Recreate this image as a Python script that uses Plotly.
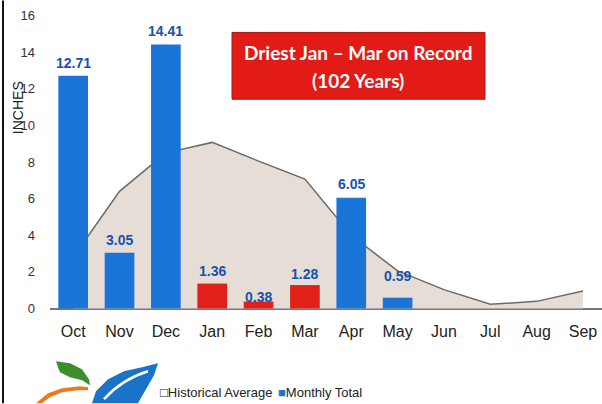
import plotly.graph_objects as go

months = ["Oct", "Nov", "Dec", "Jan", "Feb", "Mar", "Apr", "May", "Jun", "Jul", "Aug", "Sep"]
historical_avg = [2.8, 6.4, 8.5, 9.07, 8.05, 7.07, 4.0, 2.05, 1.03, 0.23, 0.39, 0.96]
bar_months = ["Oct", "Nov", "Dec", "Jan", "Feb", "Mar", "Apr", "May"]
monthly_total = [12.71, 3.05, 14.41, 1.36, 0.38, 1.28, 6.05, 0.59]
bar_labels = ["12.71", "3.05", "14.41", "1.36", "0.38", "1.28", "6.05", "0.59"]
y_ticks = [0, 2, 4, 6, 8, 10, 12, 14, 16]

BLUE = "#1b74d8"
RED = "#e2201a"
bar_colors = [BLUE, BLUE, BLUE, RED, RED, RED, BLUE, BLUE]
label_shift = [3, 3, 4, 3, -5, 1, 4, 12]  # styling: label offsets in px

sans = "Liberation Sans, Arial, sans-serif"

fig = go.Figure()
# historical average area on base axes (drawn below)
fig.add_trace(go.Scatter(
    x=months, y=historical_avg, mode="lines", fill="tozeroy",
    fillcolor="#e6ddd7", line=dict(color="#6a6a6a", width=1.5),
    showlegend=False, hoverinfo="skip", xaxis="x", yaxis="y"))
# monthly totals on overlaid axes (drawn on top)
fig.add_trace(go.Bar(
    x=bar_months, y=monthly_total, marker=dict(color=bar_colors, line=dict(width=0)),
    width=0.64, showlegend=False, xaxis="x2", yaxis="y2"))

# Plot area in pixels: x 50..602, y 9.5..314.5
L, R, T, B = 50, 0, 9.5, 89.5
W, H = 602 - L - R, 404 - T - B

def px(x):
    return (x - L) / W

def py(y):
    return (404 - B - y) / H

annotations = []
for m, v, t, s in zip(bar_months, monthly_total, bar_labels, label_shift):
    annotations.append(dict(x=m, y=v, xref="x2", yref="y2", text=t, showarrow=False,
                            xanchor="center", yanchor="bottom", yshift=s,
                            font=dict(family=sans, size=14, color="#1652ad", weight="bold")))

shapes = []
shapes.append(dict(type="line", xref="paper", yref="paper", x0=px(3), x1=px(3), y0=py(0), y1=py(404),
                   line=dict(color="#111", width=2)))
shapes.append(dict(type="rect", xref="paper", yref="paper", x0=px(232), x1=px(485), y0=py(32), y1=py(99),
                   fillcolor="#e21b16", line=dict(color="#a81410", width=1)))

def path(points):
    return "M " + " L ".join(f"{px(a):.4f},{py(b):.4f}" for a, b in points) + " Z"

shapes.append(dict(type="path", xref="paper", yref="paper",
                   path=path([(56, 362), (70, 364), (82, 370), (89, 380), (90, 386), (82, 381), (70, 378), (60, 373), (58, 368)]),
                   fillcolor="#3c8f2c", line=dict(width=0)))
shapes.append(dict(type="path", xref="paper", yref="paper",
                   path=path([(36, 404), (48, 394), (62, 389), (80, 387), (88, 388), (88, 391), (78, 391), (62, 393), (50, 398), (42, 404)]),
                   fillcolor="#ec7a1c", line=dict(width=0)))
shapes.append(dict(type="path", xref="paper", yref="paper",
                   path=path([(92, 404), (96, 392), (108, 380), (124, 372), (142, 368), (158, 364), (154, 376), (146, 390), (138, 404)]),
                   fillcolor="#1b72c9", line=dict(width=0)))
shapes.append(dict(type="path", xref="paper", yref="paper",
                   path="M " + f"{px(104):.4f},{py(400):.4f} Q {px(122):.4f},{py(380):.4f} {px(148):.4f},{py(372):.4f}",
                   line=dict(color="white", width=2.5)))

def note(text, x, y, size, family=sans, color="#222", weight="normal", xanchor="center", angle=0):
    return dict(text=text, x=px(x), y=py(y), xref="paper", yref="paper", showarrow=False,
                xanchor=xanchor, yanchor="middle", textangle=angle,
                font=dict(family=family, size=size, color=color, weight=weight))

title_font = "Lato, Open Sans, sans-serif"
annotations += [
    note("INCHES", 18, 108, 14, angle=-90),
    note("Driest Jan – Mar on Record", 358, 52, 19, family=title_font, color="white", weight="bold"),
    note("(102 Years)", 358, 80, 19, family=title_font, color="white", weight="bold"),
    note("□Historical Average", 158, 393, 13, xanchor="left"),
    note(f"<span style='color:{BLUE}'>■</span>Monthly Total", 276, 393, 13, xanchor="left"),
]

xcommon = dict(type="category", categoryorder="array", categoryarray=months,
               range=[-0.5, 11.41], showgrid=False, showline=False, ticks="")
ycommon = dict(range=[-0.3, 16.3], showgrid=False, showline=False, ticks="")

fig.update_layout(
    width=602, height=404,
    margin=dict(l=L, r=R, t=T, b=B),
    paper_bgcolor="white", plot_bgcolor="white",
    showlegend=False,
    shapes=shapes, annotations=annotations,
    xaxis=dict(**xcommon, tickfont=dict(family=sans, size=16, color="#222"), ticklabelstandoff=6),
    yaxis=dict(**ycommon, tickvals=y_ticks, zeroline=True, zerolinecolor="#777", zerolinewidth=1.5,
               tickfont=dict(family=sans, size=13, color="#333"), ticklabelstandoff=14),
    xaxis2=dict(**xcommon, overlaying="x", showticklabels=False),
    yaxis2=dict(**ycommon, overlaying="y", showticklabels=False, zeroline=False),
)

fig.write_html("out.html", config={"displayModeBar": False},
               post_script="document.body.style.margin='0';document.body.style.overflow='hidden';")
